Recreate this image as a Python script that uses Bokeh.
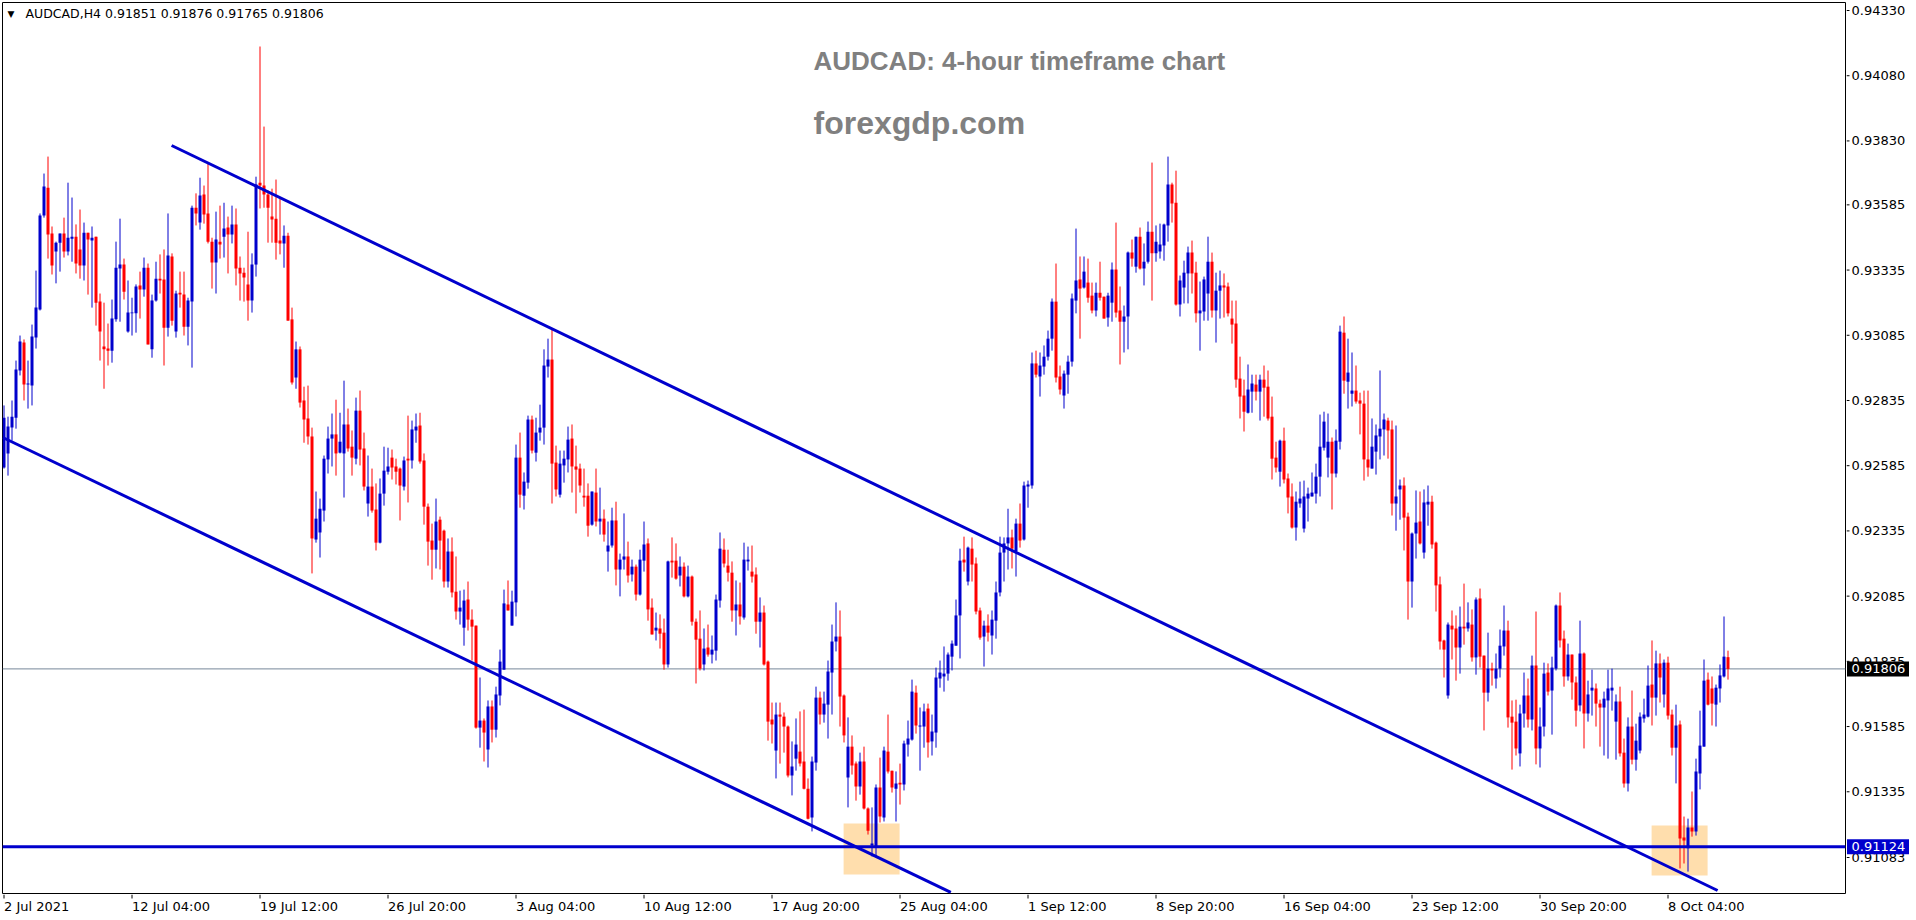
from bokeh.plotting import figure
from bokeh.models import (Range1d, Span, BoxAnnotation, Label, ColumnDataSource)
from bokeh.layouts import column, row
from bokeh.core.properties import value
from bokeh.embed import file_html
from bokeh.resources import INLINE

symbol = "AUDCAD"
timeframe = "H4"
POINT = 100000  # prices below are in 1e-5 units

opens = [
    92578, 92632, 92731, 92769, 92950, 93057, 92896, 92892, 93076, 93184,
    93544, 93651, 93475, 93406, 93440, 93475, 93406, 93455, 93463, 93414,
    93352, 93478, 93448, 93463, 93214, 93042, 93034, 93026, 93146, 93341,
    93356, 93099, 93169, 93169, 93276, 93260, 93344, 93031, 93218, 93302,
    93299, 93114, 93387, 93099, 93248, 93241, 93118, 93214, 93574, 93517,
    93625, 93552, 93444, 93364, 93444, 93463, 93498, 93471, 93510, 93344,
    93325, 93280, 93218, 93356, 93670, 93659, 93625, 93540, 93532, 93448,
    93437, 93467, 93146, 92923, 93031, 92835, 92766, 92697, 92302, 92329,
    92413, 92609, 92689, 92705, 92635, 92632, 92743, 92658, 92612, 92796,
    92651, 92440, 92505, 92417, 92290, 92478, 92562, 92616, 92582, 92574,
    92505, 92612, 92605, 92720, 92739, 92605, 92428, 92298, 92263, 92378,
    92336, 92141, 92256, 92102, 92026, 91964, 92072, 91995, 91972, 91581,
    91608, 91497, 91662, 91573, 91704, 91803, 92053, 91972, 92061, 92616,
    92470, 92520, 92762, 92635, 92712, 92731, 92965, 92992, 92597, 92474,
    92586, 92609, 92689, 92582, 92574, 92470, 92470, 92359, 92482, 92371,
    92382, 92256, 92279, 92375, 92187, 92225, 92237, 92168, 92198, 92091,
    92221, 92287, 92041, 91953, 91961, 91945, 91823, 92221, 92221, 92164,
    92198, 92084, 92160, 91987, 91922, 91823, 91888, 91861, 91876, 92068,
    92263, 92202, 92175, 92030, 92053, 92003, 92218, 92179, 92168, 91987,
    92022, 91834, 91612, 91493, 91631, 91623, 91585, 91397, 91462, 91489,
    91451, 91347, 91236, 91447, 91696, 91631, 91669, 91792, 91911, 91930,
    91704, 91390, 91508, 91443, 91355, 91451, 91271, 91129, 91125, 91351,
    91236, 91489, 91416, 91347, 91370, 91363, 91516, 91535, 91715, 91585,
    91585, 91654, 91528, 91562, 91769, 91777, 91788, 91853, 91895, 92011,
    92225, 92141, 92267, 92210, 92030, 91930, 91972, 91934, 91991, 92099,
    92252, 92287, 92310, 92256, 92363, 92302, 92505, 92509, 92977, 92927,
    92965, 93003, 93072, 93214, 92927, 92854, 92934, 92984, 93218, 93299,
    93268, 93287, 93237, 93180, 93248, 93233, 93153, 93210, 93337, 93180,
    93137, 93157, 93402, 93348, 93463, 93341, 93367, 93482, 93399, 93406,
    93429, 93506, 93663, 93593, 93203, 93268, 93322, 93402, 93325, 93169,
    93176, 93245, 93367, 93180, 93256, 93276, 93272, 93149, 93130, 92919,
    92854, 92788, 92869, 92896, 92869, 92915, 92888, 92773, 92616, 92562,
    92681, 92536, 92467, 92348, 92440, 92344, 92459, 92467, 92478, 92543,
    92654, 92616, 92677, 92555, 92677, 93095, 92907, 92861, 92873, 92835,
    92823, 92609, 92574, 92639, 92697, 92724, 92758, 92724, 92440, 92494,
    92509, 92390, 92141, 92325, 92371, 92252, 92436, 92447, 92290, 92130,
    91915, 91704, 91972, 91961, 91888, 91968, 91961, 91976, 91850, 92076,
    91857, 91715, 91807, 91769, 91807, 91892, 91953, 91623, 91604, 91482,
    91635, 91704, 91612, 91819, 91501, 91585, 91792, 91723, 91807, 92049,
    91922, 91777, 91861, 91754, 91666, 91865, 91635, 91723, 91731, 91673,
    91658, 91685, 91723, 91604, 91681, 91485, 91367, 91585, 91458, 91493,
    91616, 91623, 91746, 91696, 91827, 91708, 91830, 91631, 91504, 91593,
    91160, 91118, 91198, 91183, 91405, 91508, 91765, 91731, 91669, 91731,
    91777, 91851,
]

highs = [
    92816, 92773, 92835, 92988, 93084, 93069, 92988, 93126, 93333, 93552,
    93705, 93770, 93502, 93444, 93475, 93536, 93670, 93613, 93510, 93567,
    93517, 93478, 93502, 93463, 93245, 93210, 93130, 93222, 93444, 93532,
    93379, 93295, 93229, 93280, 93329, 93383, 93360, 93241, 93367, 93395,
    93414, 93552, 93399, 93256, 93329, 93329, 93229, 93582, 93629, 93689,
    93659, 93744, 93459, 93559, 93582, 93593, 93540, 93582, 93571, 93387,
    93344, 93482, 93399, 93693, 94192, 93885, 93640, 93647, 93682, 93609,
    93506, 93478, 93191, 93061, 93042, 92888, 92892, 92731, 92486, 92459,
    92624, 92735, 92785, 92838, 92788, 92911, 92804, 92720, 92846, 92873,
    92712, 92624, 92574, 92517, 92536, 92658, 92654, 92647, 92612, 92578,
    92620, 92777, 92758, 92785, 92788, 92632, 92440, 92363, 92459, 92390,
    92340, 92306, 92310, 92237, 92106, 92110, 92141, 92034, 91972, 91773,
    91616, 91685, 91685, 91738, 91880, 92110, 92145, 92106, 92666, 92712,
    92559, 92777, 92777, 92769, 92819, 93031, 93072, 93111, 92662, 92643,
    92643, 92735, 92743, 92662, 92593, 92574, 92517, 92486, 92574, 92501,
    92417, 92371, 92424, 92447, 92248, 92402, 92294, 92225, 92206, 92263,
    92371, 92306, 92076, 92022, 92015, 91999, 92221, 92310, 92287, 92237,
    92214, 92202, 92164, 91999, 92030, 91961, 91976, 91934, 92091, 92329,
    92306, 92263, 92218, 92145, 92137, 92290, 92275, 92279, 92195, 92080,
    92049, 91838, 91677, 91677, 91677, 91639, 91589, 91528, 91616, 91643,
    91650, 91386, 91470, 91738, 91719, 91719, 91838, 91976, 92061, 92030,
    91708, 91620, 91551, 91451, 91485, 91508, 91275, 91275, 91363, 91466,
    91508, 91631, 91416, 91413, 91443, 91531, 91608, 91765, 91742, 91658,
    91673, 91673, 91631, 91811, 91838, 91892, 91869, 91915, 92072, 92267,
    92313, 92275, 92310, 92233, 92041, 91991, 92015, 92030, 92141, 92313,
    92310, 92420, 92340, 92382, 92440, 92524, 92528, 93019, 93026, 93019,
    93046, 93103, 93226, 93360, 92969, 92950, 93007, 93245, 93494, 93387,
    93387, 93379, 93287, 93287, 93367, 93233, 93248, 93364, 93517, 93272,
    93199, 93406, 93452, 93463, 93498, 93437, 93521, 93747, 93506, 93513,
    93513, 93770, 93670, 93716, 93314, 93371, 93425, 93448, 93367, 93291,
    93310, 93463, 93402, 93325, 93333, 93322, 93287, 93218, 93218, 93003,
    92915, 92973, 92934, 92934, 92934, 92969, 92950, 92850, 92677, 92685,
    92731, 92555, 92517, 92486, 92524, 92528, 92501, 92559, 92593, 92781,
    92792, 92785, 92693, 92724, 93122, 93157, 93072, 93019, 92969, 92865,
    92873, 92873, 92766, 92743, 92950, 92785, 92769, 92758, 92739, 92532,
    92540, 92405, 92329, 92490, 92486, 92494, 92509, 92470, 92294, 92160,
    91918, 91984, 92030, 92011, 92045, 92133, 92061, 92034, 92080, 92114,
    91857, 91945, 91830, 91865, 91957, 92049, 91991, 91685, 91688, 91669,
    91792, 91769, 91857, 92026, 91658, 91830, 91827, 91853, 92053, 92099,
    91953, 91903, 91861, 91777, 91991, 91869, 91761, 91803, 91750, 91688,
    91719, 91803, 91807, 91708, 91738, 91539, 91620, 91723, 91596, 91639,
    91692, 91819, 91915, 91876, 91865, 91842, 91853, 91650, 91669, 91608,
    91240, 91232, 91336, 91462, 91646, 91842, 91792, 91777, 91746, 91823,
    92007, 91876,
]

lows = [
    92574, 92547, 92681, 92727, 92931, 92835, 92804, 92816, 93034, 93180,
    93536, 93379, 93318, 93284, 93329, 93383, 93391, 93367, 93322, 93302,
    93295, 93241, 93191, 93122, 92988, 92880, 92969, 92980, 93137, 93137,
    93222, 93095, 93084, 93095, 93149, 93233, 93050, 92999, 93214, 93245,
    92969, 93080, 93122, 93076, 93191, 93084, 93046, 92961, 93506, 93490,
    93513, 93437, 93264, 93245, 93379, 93383, 93322, 93437, 93276, 93218,
    93214, 93141, 93172, 93310, 93571, 93574, 93440, 93440, 93375, 93395,
    93344, 93141, 92896, 92880, 92808, 92673, 92666, 92172, 92290, 92233,
    92371, 92555, 92582, 92547, 92632, 92463, 92639, 92547, 92590, 92586,
    92490, 92390, 92405, 92260, 92287, 92432, 92551, 92532, 92513, 92375,
    92490, 92444, 92574, 92673, 92593, 92359, 92202, 92148, 92191, 92187,
    92118, 92118, 92080, 91995, 91976, 91895, 91953, 91838, 91577, 91504,
    91451, 91428, 91524, 91543, 91666, 91803, 92030, 91972, 92007, 92424,
    92417, 92497, 92632, 92601, 92681, 92666, 92923, 92440, 92467, 92463,
    92520, 92559, 92482, 92402, 92482, 92428, 92313, 92355, 92352, 92321,
    92294, 92179, 92271, 92126, 92084, 92187, 92137, 92141, 92068, 92087,
    92179, 91991, 91938, 91915, 91884, 91803, 91811, 92156, 92148, 92122,
    92080, 92080, 91972, 91750, 91800, 91800, 91853, 91827, 91838, 92041,
    92195, 92141, 91987, 91934, 91976, 91995, 92183, 92137, 91941, 91888,
    91819, 91531, 91520, 91386, 91443, 91485, 91390, 91321, 91416, 91432,
    91344, 91229, 91183, 91416, 91593, 91600, 91539, 91631, 91873, 91585,
    91524, 91275, 91401, 91301, 91324, 91267, 91171, 91087, 91083, 91217,
    91221, 91405, 91332, 91221, 91286, 91340, 91470, 91531, 91558, 91416,
    91504, 91466, 91474, 91504, 91734, 91719, 91761, 91800, 91895, 91846,
    92179, 92126, 92141, 92015, 91918, 91815, 91911, 91861, 91922, 92084,
    92141, 92187, 92191, 92160, 92271, 92298, 92424, 92497, 92923, 92850,
    92934, 92988, 93026, 92904, 92858, 92804, 92861, 92965, 93169, 93072,
    93264, 93210, 93169, 93157, 93218, 93149, 93118, 93137, 93153, 92973,
    93019, 93031, 93348, 93325, 93337, 93276, 93360, 93218, 93367, 93379,
    93371, 93444, 93517, 93199, 93157, 93207, 93207, 93245, 93134, 93026,
    93141, 93141, 93153, 93057, 93149, 93153, 93157, 93053, 92884, 92766,
    92716, 92785, 92788, 92835, 92758, 92773, 92758, 92532, 92559, 92505,
    92517, 92402, 92344, 92298, 92424, 92329, 92371, 92467, 92440, 92467,
    92643, 92540, 92417, 92540, 92647, 92861, 92804, 92812, 92823, 92705,
    92528, 92543, 92574, 92551, 92609, 92624, 92612, 92394, 92336, 92378,
    92260, 91995, 92041, 92229, 92283, 92229, 92355, 92267, 92026, 91880,
    91773, 91692, 91842, 91761, 91788, 91899, 91949, 91834, 91784, 91811,
    91570, 91681, 91742, 91731, 91773, 91857, 91581, 91420, 91474, 91432,
    91581, 91581, 91570, 91440, 91428, 91547, 91704, 91554, 91800, 91888,
    91738, 91761, 91688, 91585, 91643, 91501, 91604, 91627, 91585, 91508,
    91474, 91462, 91646, 91458, 91470, 91351, 91336, 91440, 91416, 91482,
    91600, 91620, 91589, 91627, 91677, 91658, 91612, 91474, 91367, 91041,
    91060, 91029, 91163, 91167, 91344, 91508, 91666, 91589, 91585, 91677,
    91773, 91765,
]

closes = [
    92769, 92735, 92773, 92954, 93061, 92896, 92900, 93080, 93191, 93544,
    93655, 93471, 93352, 93440, 93475, 93406, 93459, 93463, 93360, 93352,
    93478, 93452, 93459, 93210, 93099, 93031, 93026, 93149, 93344, 93356,
    93252, 93172, 93172, 93272, 93260, 93344, 93050, 93218, 93302, 93295,
    93114, 93391, 93141, 93245, 93241, 93118, 93218, 93574, 93552, 93621,
    93548, 93444, 93364, 93452, 93433, 93494, 93471, 93510, 93341, 93322,
    93306, 93218, 93356, 93663, 93659, 93625, 93574, 93529, 93440, 93437,
    93467, 93141, 92904, 93031, 92827, 92762, 92697, 92306, 92382, 92420,
    92612, 92689, 92705, 92632, 92677, 92743, 92651, 92616, 92796, 92647,
    92505, 92505, 92413, 92290, 92478, 92566, 92582, 92578, 92562, 92509,
    92605, 92605, 92724, 92735, 92601, 92428, 92294, 92263, 92371, 92298,
    92141, 92256, 92099, 92026, 92041, 92068, 91995, 91968, 91581, 91608,
    91562, 91662, 91573, 91708, 91834, 92057, 92030, 92064, 92616, 92474,
    92524, 92762, 92643, 92712, 92731, 92969, 92992, 92593, 92494, 92593,
    92612, 92685, 92582, 92570, 92509, 92463, 92355, 92486, 92371, 92382,
    92321, 92279, 92375, 92187, 92225, 92237, 92164, 92198, 92091, 92225,
    92283, 92034, 91938, 91964, 91941, 91823, 92218, 92214, 92152, 92198,
    92084, 92160, 91987, 91918, 91807, 91884, 91861, 91880, 92072, 92267,
    92210, 92175, 92030, 92053, 92007, 92225, 92225, 92160, 91987, 92022,
    91823, 91604, 91593, 91631, 91623, 91585, 91397, 91432, 91516, 91443,
    91347, 91232, 91451, 91696, 91631, 91673, 91796, 91911, 91930, 91700,
    91551, 91508, 91436, 91355, 91451, 91271, 91186, 91137, 91351, 91240,
    91493, 91413, 91351, 91367, 91363, 91520, 91539, 91719, 91589, 91589,
    91643, 91524, 91566, 91773, 91792, 91788, 91861, 91903, 92011, 92221,
    92214, 92271, 92206, 92026, 91926, 91972, 91945, 91995, 92099, 92252,
    92287, 92310, 92267, 92363, 92298, 92509, 92513, 92977, 92934, 92969,
    93003, 93072, 93214, 92923, 92877, 92938, 92984, 93226, 93295, 93264,
    93329, 93229, 93180, 93248, 93229, 93149, 93237, 93337, 93172, 93137,
    93157, 93402, 93379, 93463, 93341, 93367, 93482, 93399, 93444, 93433,
    93510, 93663, 93590, 93203, 93295, 93325, 93402, 93322, 93169, 93180,
    93299, 93367, 93180, 93256, 93276, 93268, 93169, 93126, 92915, 92850,
    92792, 92877, 92900, 92869, 92915, 92884, 92766, 92612, 92578, 92681,
    92532, 92463, 92348, 92447, 92459, 92467, 92478, 92482, 92543, 92658,
    92754, 92677, 92555, 92681, 93099, 92911, 92942, 92873, 92831, 92823,
    92609, 92578, 92658, 92701, 92727, 92762, 92720, 92440, 92467, 92509,
    92386, 92141, 92325, 92367, 92287, 92444, 92447, 92283, 92126, 91911,
    91880, 91976, 91957, 91888, 91968, 91961, 91984, 91850, 92072, 91853,
    91715, 91807, 91800, 91807, 91895, 91953, 91620, 91600, 91501, 91635,
    91704, 91612, 91819, 91501, 91585, 91788, 91719, 91811, 92049, 91915,
    91777, 91861, 91754, 91646, 91865, 91635, 91708, 91734, 91673, 91658,
    91692, 91731, 91734, 91681, 91482, 91367, 91585, 91458, 91531, 91623,
    91631, 91742, 91696, 91827, 91773, 91830, 91627, 91504, 91589, 91156,
    91148, 91198, 91183, 91413, 91512, 91761, 91669, 91673, 91734, 91781,
    91853, 91806,
]

date_tick_bars = [0, 32, 64, 96, 128, 160, 192, 224, 256, 288, 320, 352, 384, 416]
date_tick_labels = ["2 Jul 2021", "12 Jul 04:00", "19 Jul 12:00", "26 Jul 20:00",
                    "3 Aug 04:00", "10 Aug 12:00", "17 Aug 20:00", "25 Aug 04:00",
                    "1 Sep 12:00", "8 Sep 20:00", "16 Sep 04:00", "23 Sep 12:00",
                    "30 Sep 20:00", "8 Oct 04:00"]
price_ticks = [0.94330, 0.94080, 0.93830, 0.93585, 0.93335, 0.93085, 0.92835,
               0.92585, 0.92335, 0.92085, 0.91835, 0.91585, 0.91335, 0.91083]

support_level = 0.91124
upper_channel_bars = [41.9, 428.4]
upper_channel_prices = [0.938125, 0.909565]
lower_channel_bars = [-0.3, 236.7]
lower_channel_prices = [0.926931, 0.909493]
zone_bars = [(209.9, 223.9), (411.9, 425.9)]
zone_prices = [(0.910179, 0.912134), (0.910140, 0.912058)]

title_text = "AUDCAD: 4-hour timeframe chart"
site_text = "forexgdp.com"

BULL = "#0000cc"
BEAR = "#ff0000"
LINE_BLUE = "#0000cd"
FONT = "DejaVu Sans"

FRAME_W, FRAME_H = 1843, 891
AXIS_W, TIME_H = 68, 24
X0 = -0.375
X1 = X0 + FRAME_W / 4
Y0, Y1 = 0.909450, 0.943607

o = [v / POINT for v in opens]
h = [v / POINT for v in highs]
l = [v / POINT for v in lows]
c = [v / POINT for v in closes]
n = len(c)
src = ColumnDataSource(dict(
    x=list(range(n)), h=h, l=l,
    top=[max(a, b) for a, b in zip(o, c)],
    bottom=[min(a, b) for a, b in zip(o, c)],
    color=[BULL if cc > oo else BEAR for oo, cc in zip(o, c)],
))

x_range = Range1d(X0, X1)
y_range = Range1d(Y0, Y1)


def bare(fig):
    fig.background_fill_color = "white"
    fig.border_fill_color = "white"
    fig.grid.visible = False
    return fig


# ---------------- main chart ----------------
p = bare(figure(frame_width=FRAME_W, frame_height=FRAME_H, output_backend="svg",
                toolbar_location=None, x_range=x_range, y_range=y_range,
                x_axis_location=None, y_axis_location=None,
                min_border_left=2, min_border_top=2, min_border_right=1, min_border_bottom=1))
p.outline_line_color = "black"
p.outline_line_width = 1

for (b0, b1), (pl, ph) in zip(zone_bars, zone_prices):
    p.add_layout(BoxAnnotation(left=b0, right=b1, bottom=pl, top=ph,
                               fill_color="#ffdead", fill_alpha=1.0,
                               line_color=None, level="underlay"))

p.add_layout(Span(location=c[-1], dimension="width", line_color="#778899",
                  line_width=1, level="underlay"))

p.segment(x0="x", y0="l", x1="x", y1="h", line_color="color", line_width=1, source=src)
p.vbar(x="x", width=0.75, top="top", bottom="bottom", fill_color="color",
       line_color=None, source=src)

p.line(upper_channel_bars, upper_channel_prices, line_color=LINE_BLUE, line_width=3)
p.line(lower_channel_bars, lower_channel_prices, line_color=LINE_BLUE, line_width=3)
p.add_layout(Span(location=support_level, dimension="width", line_color=LINE_BLUE,
                  line_width=3))

p.add_layout(Label(x=X0, y=Y1, x_offset=5, y_offset=-11.5, text="\u25bc",
                   text_font=FONT, text_font_size="9px", text_color="black",
                   text_baseline="middle"))
p.add_layout(Label(x=X0, y=Y1, x_offset=23, y_offset=-10.5,
                   text=f"{symbol},{timeframe}  {o[-1]:.5f} {h[-1]:.5f} {l[-1]:.5f} {c[-1]:.5f}",
                   text_font=FONT, text_font_size="12.5px", text_color="black",
                   text_baseline="middle"))
p.add_layout(Label(x=X0, y=Y1, x_offset=811, y_offset=-58, text=title_text,
                   text_font="Liberation Sans", text_font_style="bold",
                   text_font_size="26px", text_color="#808080", text_baseline="middle"))
p.add_layout(Label(x=X0, y=Y1, x_offset=811, y_offset=-120, text=site_text,
                   text_font="Liberation Sans", text_font_style="bold",
                   text_font_size="32px", text_color="#808080", text_baseline="middle"))

# ---------------- price scale (right) ----------------
ax = bare(figure(frame_width=AXIS_W, frame_height=FRAME_H, output_backend="svg",
                 toolbar_location=None, x_range=Range1d(0, AXIS_W), y_range=y_range,
                 x_axis_location=None, y_axis_location=None,
                 min_border_left=0, min_border_right=0, min_border_top=2, min_border_bottom=1))
ax.outline_line_color = None
ax.segment(x0=[0] * len(price_ticks), y0=price_ticks, x1=[3] * len(price_ticks),
           y1=price_ticks, line_color="black", line_width=1)
ax.text(x=[5] * len(price_ticks), y=price_ticks, text=[f"{t:.5f}" for t in price_ticks],
        text_font=value(FONT), text_font_size=value("13px"), text_color="black",
        text_align="left", text_baseline="middle")
box_prices = [c[-1], support_level]
box_colors = ["black", LINE_BLUE]
ax.rect(x=[31.5] * 2, y=box_prices, width=62, height=15,
        height_units="screen", fill_color=box_colors, line_color=None)
ax.text(x=[5] * 2, y=box_prices, text=[f"{v:.5f}" for v in box_prices],
        text_font=value(FONT), text_font_size=value("13px"), text_color="white",
        text_align="left", text_baseline="middle")

# ---------------- time scale (bottom) ----------------
tx = bare(figure(frame_width=FRAME_W, frame_height=TIME_H, output_backend="svg",
                 toolbar_location=None, x_range=x_range, y_range=Range1d(0, TIME_H),
                 x_axis_location=None, y_axis_location=None,
                 min_border_left=2, min_border_right=1, min_border_top=0, min_border_bottom=0))
tx.outline_line_color = None
tx.segment(x0=date_tick_bars, y0=[TIME_H] * len(date_tick_bars), x1=date_tick_bars,
           y1=[TIME_H - 4] * len(date_tick_bars), line_color="black", line_width=1)
tx.text(x=date_tick_bars, y=[TIME_H - 12] * len(date_tick_bars), text=date_tick_labels,
        x_offset=0, text_font=value(FONT), text_font_size=value("13px"),
        text_color="black", text_align="left", text_baseline="middle")

layout = column(row(p, ax, spacing=0), tx, spacing=0)
open("out.html", "w").write(file_html(layout, INLINE))
